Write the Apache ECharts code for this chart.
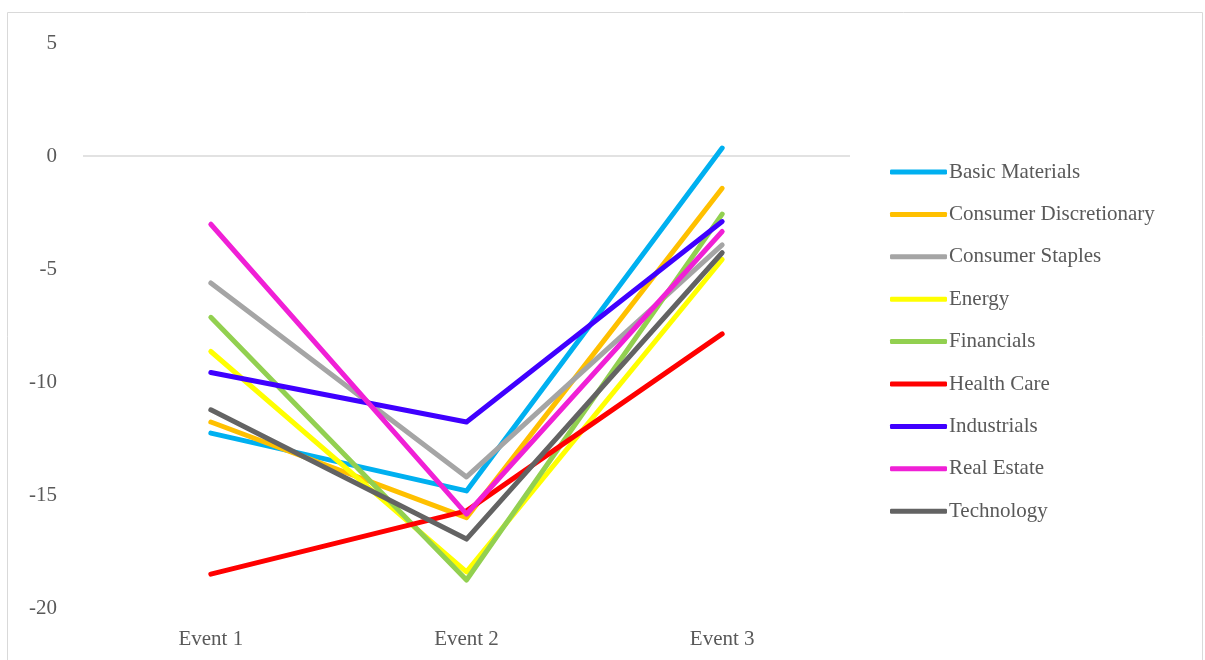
<!DOCTYPE html>
<html>
<head>
<meta charset="utf-8">
<script src="https://cdn.jsdelivr.net/npm/echarts@6/dist/echarts.min.js"></script>
<style>
  html, body { margin: 0; padding: 0; background: #fff; }
  #chart { width: 1205px; height: 660px; }
</style>
</head>
<body>
<div id="chart"></div>
<script>
const categories = ['Event 1', 'Event 2', 'Event 3']

const basicMaterials = [-12.26, -14.82, 0.35]
const consumerDiscretionary = [-11.77, -16.0, -1.43]
const consumerStaples = [-5.62, -14.2, -3.93]
const energy = [-8.65, -18.4, -4.58]
const financials = [-7.14, -18.76, -2.57]
const healthCare = [-18.5, -15.7, -7.87]
const industrials = [-9.58, -11.77, -2.9]
const realEstate = [-3.02, -15.85, -3.34]
const technology = [-11.23, -16.95, -4.28]

const seriesList = [
  ['Basic Materials', basicMaterials, '#00b0f0'],
  ['Consumer Discretionary', consumerDiscretionary, '#ffc000'],
  ['Consumer Staples', consumerStaples, '#a5a5a5'],
  ['Energy', energy, '#ffff00'],
  ['Financials', financials, '#92d050'],
  ['Health Care', healthCare, '#ff0000'],
  ['Industrials', industrials, '#3f00ff'],
  ['Real Estate', realEstate, '#f020d6'],
  ['Technology', technology, '#636363'],
]

const font = "'Liberation Serif', 'Times New Roman', serif"
const textColor = '#595959'

const chart = echarts.init(document.getElementById('chart'))
chart.setOption({
  animation: false,
  textStyle: { fontFamily: font },
  graphic: [{
    type: 'rect',
    shape: { x: 7.5, y: 12.5, width: 1195, height: 660 },
    style: { fill: 'none', stroke: '#d9d9d9', lineWidth: 1 },
    silent: true,
  }],
  grid: { left: 83, right: 355, top: 43, bottom: 52 },
  legend: {
    orient: 'vertical',
    left: 885,
    top: 155,
    icon: 'roundRect',
    itemWidth: 57,
    itemHeight: 5,
    itemGap: 18.4,
    textStyle: { color: textColor, fontSize: 21, lineHeight: 24, fontFamily: font, padding: [0, 0, 0, -3] },
    data: seriesList.map(s => s[0]),
  },
  xAxis: {
    type: 'category',
    data: categories,
    boundaryGap: true,
    axisLine: { show: false },
    axisTick: { show: false },
    axisLabel: { color: textColor, fontSize: 21, fontFamily: font, margin: 21 },
  },
  yAxis: {
    type: 'value',
    min: -20,
    max: 5,
    interval: 5,
    axisLine: { show: false },
    axisTick: { show: false },
    splitLine: { show: false },
    axisLabel: { color: textColor, fontSize: 21, fontFamily: font, margin: 26 },
  },
  series: seriesList.map(([name, values, color], i) => ({
    name,
    type: 'line',
    data: values,
    symbol: 'none',
    color,
    z: 2 + i * 0.01,
    lineStyle: { width: 5, color, cap: 'round', join: 'round' },
    markLine: i === 0 ? {
      silent: true,
      symbol: 'none',
      label: { show: false },
      lineStyle: { color: '#d9d9d9', width: 1.5, type: 'solid' },
      data: [{ yAxis: 0 }],
      z: 1,
    } : undefined,
  })),
})
</script>
</body>
</html>
